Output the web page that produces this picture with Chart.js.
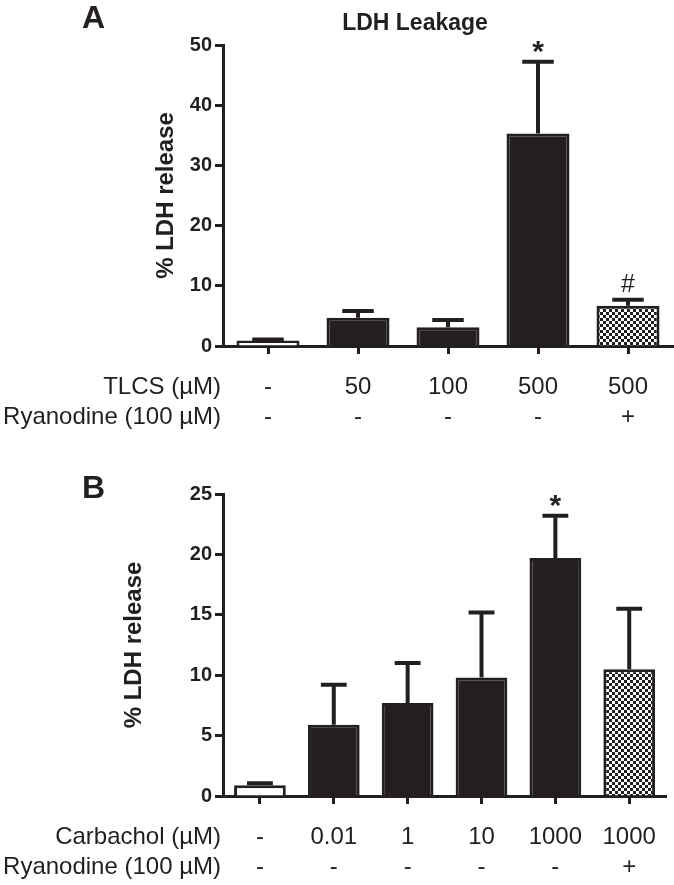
<!DOCTYPE html>
<html>
<head>
<meta charset="utf-8">
<script src="https://cdn.jsdelivr.net/npm/chart.js@4.4.0/dist/chart.umd.min.js"></script>
<style>
  body { margin: 0; background: #fff; }
  canvas { position: absolute; left: 0; }
  #chartA { top: 0; }
  #chartB { top: 440px; }
</style>
</head>
<body>
<canvas id="chartA" width="674" height="440"></canvas>
<canvas id="chartB" width="674" height="445"></canvas>
<script>
// panel A: TLCS
const tlcsDose = ["-", "50", "100", "500", "500"];
const tlcsRyanodine = ["-", "-", "-", "-", "+"];
const tlcsMean = [0.9, 4.7, 3.1, 35.3, 6.7];
const tlcsSem = [0.2, 1.1, 1.2, 11.9, 1.0];
const tlcsMarks = ["", "", "", "*", "#"];

// panel B: carbachol
const cchDose = ["-", "0.01", "1", "10", "1000", "1000"];
const cchRyanodine = ["-", "-", "-", "-", "-", "+"];
const cchMean = [0.9, 5.9, 7.7, 9.8, 19.7, 10.5];
const cchSem = [0.15, 3.3, 3.3, 5.4, 3.5, 5.0];
const cchMarks = ["", "", "", "", "*", ""];

const ink = "#231f20";
const FONT = "'Liberation Sans', Arial, Helvetica, sans-serif";
Chart.defaults.font.family = FONT;
Chart.defaults.color = ink;

// checkered fill for the ryanodine bars
function checker() {
  const tile = document.createElement("canvas");
  tile.width = 6;
  tile.height = 6;
  const t = tile.getContext("2d");
  t.fillStyle = "#fff";
  t.fillRect(0, 0, 6, 6);
  t.fillStyle = ink;
  t.fillRect(0, 0, 3, 3);
  t.fillRect(3, 3, 3, 3);
  return t.createPattern(tile, "repeat");
}

function barColors(n) {
  const c = [];
  for (let i = 0; i < n; i++) c.push(ink);
  c[0] = "#ffffff";
  c[n - 1] = checker();
  return c;
}

// error bars (upper only) + significance marks
const errorBars = {
  id: "errorBars",
  afterDatasetsDraw(chart, args, opts) {
    const meta = chart.getDatasetMeta(0);
    const y = chart.scales.y;
    const ctx = chart.ctx;
    ctx.save();
    ctx.strokeStyle = ink;
    ctx.fillStyle = ink;
    ctx.lineWidth = 4;
    meta.data.forEach((bar, i) => {
      const top = y.getPixelForValue(opts.mean[i] + opts.sem[i]);
      const half = bar.width * 0.25;
      ctx.beginPath();
      ctx.moveTo(bar.x, bar.y);
      ctx.lineTo(bar.x, top);
      ctx.moveTo(bar.x - half, top);
      ctx.lineTo(bar.x + half, top);
      ctx.stroke();
      const m = opts.marks[i];
      ctx.textAlign = "center";
      ctx.textBaseline = "alphabetic";
      if (m === "*") {
        ctx.font = "bold 30px " + FONT;
        ctx.fillText(m, bar.x, top - 1);
      } else if (m === "#") {
        ctx.font = "25px " + FONT;
        ctx.fillText(m, bar.x, top - 8);
      }
    });
    ctx.restore();
  }
};

// panel letter, title and row headers
const panelText = {
  id: "panelText",
  afterDraw(chart, args, opts) {
    const ctx = chart.ctx;
    const x = chart.scales.x;
    ctx.save();
    ctx.fillStyle = ink;
    ctx.textBaseline = "alphabetic";
    ctx.textAlign = "left";
    ctx.font = "bold 32px " + FONT;
    ctx.fillText(opts.letter, 82, opts.letterY);
    if (opts.title) {
      ctx.textAlign = "center";
      ctx.font = "bold 23px " + FONT;
      ctx.fillText(opts.title, 415, 30);
    }
    ctx.textAlign = "right";
    ctx.textBaseline = "middle";
    ctx.font = "24px " + FONT;
    opts.rows.forEach((r, k) => {
      ctx.fillText(r, chart.chartArea.left - 2, x.top + 8 + 18 + 15 + k * 30);
    });
    ctx.restore();
  }
};

function makeChart(id, dose, ryan, mean, sem, marks, cfg) {
  return new Chart(document.getElementById(id), {
    type: "bar",
    data: {
      labels: dose.map((d, i) => [d, ryan[i]]),
      datasets: [{
        data: mean,
        backgroundColor: barColors(mean.length),
        borderColor: ink,
        borderWidth: 3,
        barPercentage: 0.7,
        categoryPercentage: 1.0
      }]
    },
    options: {
      responsive: false,
      animation: false,
      layout: { padding: { top: cfg.top, left: 0, right: 1, bottom: 0 } },
      plugins: {
        legend: { display: false },
        tooltip: { enabled: false },
        errorBars: { mean: mean, sem: sem, marks: marks },
        panelText: { letter: cfg.letter, letterY: cfg.letterY, title: cfg.title, rows: cfg.rows }
      },
      scales: {
        x: {
          grid: { display: true, drawOnChartArea: false, offset: false, tickLength: 8, tickWidth: 3, tickColor: ink },
          border: { display: true, width: 3, color: ink },
          ticks: { padding: 18, color: ink, font: { size: 24, lineHeight: 1.25 } },
          afterFit: s => { s.height = cfg.xHeight; }
        },
        y: {
          min: 0,
          max: cfg.max,
          ticks: { stepSize: cfg.step, padding: 3, color: ink, font: { size: 20, weight: "bold" } },
          grid: { display: true, drawOnChartArea: false, tickLength: 8, tickWidth: 3, tickColor: ink },
          border: { display: true, width: 3, color: ink },
          title: {
            display: true,
            text: "% LDH release",
            color: ink,
            font: { size: 24, weight: "bold" },
            padding: { top: cfg.titlePad, bottom: 0 }
          },
          afterFit: s => { s.width = 223; }
        }
      }
    },
    plugins: [errorBars, panelText]
  });
}

makeChart("chartA", tlcsDose, tlcsRyanodine, tlcsMean, tlcsSem, tlcsMarks, {
  top: 45, xHeight: 94, max: 50, step: 10, titlePad: 152,
  letter: "A", letterY: 28, title: "LDH Leakage",
  rows: ["TLCS (\u00b5M)", "Ryanodine (100 \u00b5M)"]
});

makeChart("chartB", cchDose, cchRyanodine, cchMean, cchSem, cchMarks, {
  top: 54, xHeight: 89, max: 25, step: 5, titlePad: 120,
  letter: "B", letterY: 58, title: "",
  rows: ["Carbachol (\u00b5M)", "Ryanodine (100 \u00b5M)"]
});
</script>
</body>
</html>
